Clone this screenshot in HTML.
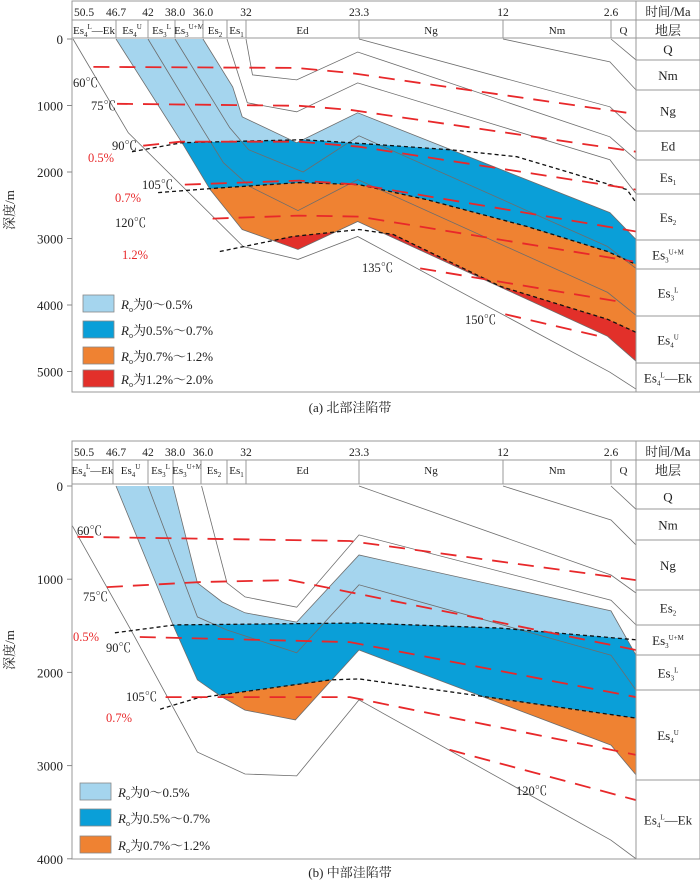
<!DOCTYPE html>
<html><head><meta charset="utf-8">
<style>
html,body{margin:0;padding:0;background:#fff;}
svg{display:block;}
text{font-family:"Liberation Serif","Noto Serif CJK SC",serif;fill:#222;}
</style></head>
<body>
<svg id="c" width="700" height="888" viewBox="0 0 700 888" xmlns="http://www.w3.org/2000/svg"></svg>
<script>
// ---------- axis calibration ----------
const ageKeys=[50.5,46.7,42,38,36,34,32,23.3,12,2.6,0];
const axisPx=[73,116,148,175,203,227,246,359,503,611,636];
function xA(a){for(let i=0;i<ageKeys.length-1;i++){if(a>=ageKeys[i+1]){const t=(ageKeys[i]-a)/(ageKeys[i]-ageKeys[i+1]);return axisPx[i]+t*(axisPx[i+1]-axisPx[i]);}}return axisPx[axisPx.length-1];}
const yA=d=>39+d*0.0665;
const yB=d=>486+d*0.0932;

// ---------- data: panel a (age Ma, depth m) ----------
const timeTicks=[50.5,46.7,42,38.0,36.0,32,23.3,12,2.6];
const timeTickLabels=["50.5","46.7","42","38.0","36.0","32","23.3","12","2.6"];
const depthTicksA=[0,1000,2000,3000,4000,5000];
const depthTicksB=[0,1000,2000,3000,4000];
const aQ=[[2.6,0],[0,315]];
const aNm=[[12,0],[2.7,345],[0,765]];
const aNg=[[23.3,0],[2.7,1020],[0,1380]];
const aEd=[[32,0],[31.5,540],[28.1,615],[23.4,195],[2.7,1470],[0,1815]];
const aEs1=[[34,0],[31.9,960],[28.1,1095],[23.4,660],[2.7,1815],[0,2325]];
const aEs2=[[36,0],[33.4,720],[32.4,1170],[28.1,1560],[23.4,1110],[2.7,2610],[0,3015]];
const aEs3UM=[[38,0],[33.7,1335],[31.8,1665],[27.6,2000],[23.3,1455],[2.9,3120],[0,3450]];
const aEs3L=[[42,0],[36,1365],[34.3,1860],[31.7,2220],[28,2580],[23.4,2115],[2.9,3810],[0,4155]];
const aEs4U=[[46.7,0],[37.5,1560],[35.4,2265],[32.4,2865],[28,3165],[23.4,2745],[2.9,4470],[0,4845]];
const aEs4L=[[50.5,0],[44.9,1410],[32.3,3120],[28,3315],[23.4,2970],[2.7,5010],[0,5265]];
const aRo05=[[44.35,1695],[37.5,1560],[27.6,1515],[24,1560],[16.2,1665],[10.8,1770],[7.0,1965],[3.6,2145],[0.94,2265],[0,2460]];
const aRo07=[[40.5,2310],[35.4,2250],[27.9,2160],[23.3,2190],[18,2415],[9.9,2820],[2.9,3195],[0,3390]];
const aRo12=[[34.6,3195],[28.4,2970],[23.3,2865],[20.6,2940],[12.2,3720],[2.9,4215],[0,4410]];
const aT60=[[48.7,420],[28.1,435],[24,510],[0.94,1110]];
const aT75=[[46.55,975],[27.9,1005],[24,1065],[0,1695]];
const aT90=[[42.7,1605],[37.6,1545],[27.9,1545],[23.3,1620],[0,2265]];
const aT105=[[37.3,2190],[27.9,2130],[23.3,2190],[0,2895]];
const aT120=[[35.2,2700],[27.9,2655],[23.3,2670],[0.3,3345]];
const aT135=[[18.5,3450],[1.35,3960]];
const aT150=[[11.8,4140],[3.6,4470]];

// ---------- data: panel b ----------
const bQ=[[2.6,0],[0,250]];
const bNm=[[12,0],[2.6,365],[0,633]];
const bNg=[[23.3,0],[2.6,955],[0,1148]];
const bEs2=[[36.1,0],[34,1040],[32.1,1190],[28.1,1300],[23.3,525],[2.6,1225],[0,1490]];
const bEs3UM=[[38.3,0],[36.4,1040],[34.4,1245],[32.1,1360],[28.1,1460],[23.3,740],[2.6,1340],[0,1815]];
const bEs3L=[[42,0],[36.4,1405],[34,1545],[28.1,1790],[23.3,1060],[2.6,1815],[0,2190]];
const bEs4U=[[46.7,0],[38.3,1490],[36.4,2080],[34.4,2265],[32.1,2405],[28.2,2510],[23.3,1760],[2.6,2780],[0,3100]];
const bEs4L=[[50.6,420],[44.35,1565],[36.4,2855],[32.1,3090],[28.1,3110],[23.3,2295],[2.6,3800],[0,4000]];
const bRo05=[[46.8,1575],[38,1490],[23.3,1470],[12.2,1525],[0,1650]];
const bRo07=[[40.2,2395],[36.4,2275],[25.5,2080],[23.3,2070],[0,2490]];
const bT60=[[50.1,545],[24,590],[0,1010]];
const bT75=[[47.5,1085],[36.1,1030],[28.6,1010],[24,1140],[0,1760]];
const bT90=[[43.2,1620],[24,1675],[0,2265]];
const bT105=[[39.4,2265],[24,2265],[0,2885]];
const bT120=[[16.2,2830],[0,3370]];

const legendLabels=["0～0.5%","0.5%～0.7%","0.7%～1.2%","1.2%～2.0%"];
const COL={lb:"#a5d5ee",b:"#0a9fd8",o:"#ef8232",r:"#e2302a"};
const legendColors=[COL.lb,COL.b,COL.o,COL.r];

const NS="http://www.w3.org/2000/svg";
const svg=document.getElementById('c');
function el(tag,attrs,parent){const e=document.createElementNS(NS,tag);for(const k in attrs)e.setAttribute(k,attrs[k]);(parent||svg).appendChild(e);return e;}
function pts(arr,ys){return arr.map(p=>xA(p[0]).toFixed(1)+','+ys(p[1]).toFixed(1)).join(' ');}

function drawPanel(o){
  const g=el('g',{});
  
  
  const ys=o.ys;
  const cp=el('clipPath',{id:o.id+'clip'},g);
  const bandPts=pts(o.bandTop,ys)+' '+pts(o.bandBot.slice().reverse(),ys);
  el('polygon',{points:bandPts},cp);
  const fg=el('g',{'clip-path':'url(#'+o.id+'clip)'},g);
  const r0=el('rect',{x:72,y:o.top,width:564,height:o.bottom-o.top,fill:COL.lb},fg);
  
  
  o.ro.forEach((c,i)=>{
    const first=c[0],last=c[c.length-1];
    const p='72,'+ys(first[1]).toFixed(1)+' '+pts(c,ys)+' 640,'+ys(last[1]).toFixed(1)+' 640,900 72,900';
    const pg=el('polygon',{points:p,fill:[COL.b,COL.o,COL.r][i]},fg);
    
    
  });
  o.strata.forEach((s,i)=>{
    const l=el('polyline',{points:pts(s,ys),fill:'none',stroke:'#6d6d6d','stroke-width':0.8},g);
    
    
  });
  o.ro.forEach((c,i)=>{
    const l=el('polyline',{points:pts(c,ys),fill:'none',stroke:'#111','stroke-width':1.3,'stroke-dasharray':'4,3'},g);
    
    
  });
  o.temps.forEach((c,i)=>{
    const l=el('polyline',{points:pts(c,ys),fill:'none',stroke:'#e8282a','stroke-width':1.8,'stroke-dasharray':'16,10'},g);
    
    
  });
  el('rect',{x:72,y:o.frameTop,width:628,height:o.bottom-o.frameTop,fill:'none',stroke:'#999','stroke-width':1},g);
  el('line',{x1:72,y1:o.frameTop+19,x2:700,y2:o.frameTop+19,stroke:'#999'},g);
  el('line',{x1:72,y1:o.top-1,x2:700,y2:o.top-1,stroke:'#999'},g);
  el('line',{x1:636,y1:o.frameTop,x2:636,y2:o.bottom,stroke:'#999'},g);
  timeTicks.forEach((t,i)=>{
    const tx=el('text',{x:i===0?74:xA(t),y:o.frameTop+15,'font-size':11.5,'text-anchor':i===0?'start':'middle'},g);
    tx.textContent=timeTickLabels[i];
    
    
  });
  const sx=o.strataX;
  o.strataLabels.forEach((lab,i)=>{
    if(i>0)el('line',{x1:sx[i],y1:o.frameTop+19,x2:sx[i],y2:o.top-1,stroke:'#999'},g);
    const tx=el('text',{x:(sx[i]+sx[i+1])/2,y:o.frameTop+33,'font-size':11,'text-anchor':'middle'},g);
    tx.innerHTML=lab;
    
    
  });
  const t1=el('text',{x:668,y:o.frameTop+15,'font-size':12.5,'text-anchor':'middle'},g);t1.textContent='时间/Ma';
  
  const t2=el('text',{x:668,y:o.frameTop+34,'font-size':13,'text-anchor':'middle'},g);t2.textContent='地层';
  
  o.rows.forEach((r,i)=>{
    if(i>0)el('line',{x1:636,y1:r[0],x2:700,y2:r[0],stroke:'#999'},g);
    const tx=el('text',{x:668,y:(r[0]+r[1])/2+5,'font-size':13,'text-anchor':'middle'},g);
    tx.innerHTML=r[2];
    
    
  });
  o.ticks.forEach(d=>{
    el('line',{x1:67,y1:ys(d),x2:72,y2:ys(d),stroke:'#888'},g);
    const tx=el('text',{x:63,y:ys(d)+5,'font-size':13,'text-anchor':'end'},g);
    tx.textContent=d;
    
    
  });
  const yt=el('text',{x:0,y:0,'font-size':13,'text-anchor':'middle',transform:'translate(14,'+o.ytY+') rotate(-90)'},g);
  yt.textContent='深度/m';
  
  
  o.notes.forEach(n=>{
    const tx=el('text',{x:n[0],y:n[1],'font-size':12.5},g);
    if(n[3])tx.setAttribute('style','fill:#e8282a');
    tx.textContent=n[2];
    
    
  });
  o.legendY.forEach((ly,i)=>{
    const r=el('rect',{x:o.legendX,y:ly,width:31,height:17,fill:legendColors[i],stroke:'#888','stroke-width':0.8},g);
    
    
    const tx=el('text',{x:o.legendX+38,y:ly+14,'font-size':13},g);
    tx.innerHTML='<tspan font-style="italic">R</tspan><tspan font-size="8" dy="3">o</tspan><tspan dy="-3">为'+legendLabels[i]+'</tspan>';
    
    
  });
  const cap=el('text',{x:350,y:o.capY,'font-size':13,'text-anchor':'middle'},g);
  cap.textContent=o.caption;
  
  
}
const S='<tspan font-size="7" dy="3">';const E='</tspan>';
function es(sub,sup,tail){return 'Es'+S+sub+E+(sup?'<tspan font-size="7" dy="-8">'+sup+'</tspan><tspan dy="5">'+(tail||'')+'</tspan>':'<tspan dy="-3">'+(tail||'')+'</tspan>');}
const hdr=[es('4','L','—Ek'),es('4','U'),es('3','L'),es('3','U+M'),es('2',''),es('1',''),'Ed','Ng','Nm','Q'];

drawPanel({id:'a',ys:yA,frameTop:1,top:39,bottom:392,
  bandTop:aEs2,bandBot:aEs4U,ro:[aRo05,aRo07,aRo12],
  strata:[aQ,aNm,aNg,aEd,aEs1,aEs2,aEs3UM,aEs3L,aEs4U,aEs4L],
  temps:[aT60,aT75,aT90,aT105,aT120,aT135,aT150],
  strataX:[72,116,148,175,203,227,246,359,503,611,636],strataLabels:hdr,
  rows:[[38,60,'Q'],[60,90,'Nm'],[90,131,'Ng'],[131,160,'Ed'],[160,194,es('1','')],[194,240,es('2','')],[240,269,es('3','U+M')],[269,316,es('3','L')],[316,363,es('4','U')],[363,392,es('4','L','—Ek')]],
  ticks:depthTicksA,ytY:210,
  notes:[[73,87,'60℃'],[91,110,'75℃'],[112,150,'90℃'],[88,162,'0.5%',1],[142,189,'105℃'],[115,202,'0.7%',1],[115,227,'120℃'],[122,259,'1.2%',1],[362,272,'135℃'],[465,324,'150℃']],
  legendX:83,legendY:[295,321,347,370],caption:'(a) 北部洼陷带',capY:412});

drawPanel({id:'b',ys:yB,frameTop:441,top:485,bottom:859,
  bandTop:bEs3UM,bandBot:bEs4U,ro:[bRo05,bRo07],
  strata:[bQ,bNm,bNg,bEs2,bEs3UM,bEs3L,bEs4U,bEs4L],
  temps:[bT60,bT75,bT90,bT105,bT120],
  strataX:[72,113,148,173,201,227,246,359,503,611,636],strataLabels:hdr,
  rows:[[484,509,'Q'],[509,540,'Nm'],[540,590,'Ng'],[590,625,es('2','')],[625,655,es('3','U+M')],[655,690,es('3','L')],[690,780,es('4','U')],[780,859,es('4','L','—Ek')]],
  ticks:depthTicksB,ytY:650,
  notes:[[77,535,'60℃'],[83,601,'75℃'],[73,641,'0.5%',1],[106,652,'90℃'],[126,701,'105℃'],[106,722,'0.7%',1],[516,795,'120℃']],
  legendX:80,legendY:[783,809,836],caption:'(b) 中部洼陷带',capY:877});
</script>
</body></html>
